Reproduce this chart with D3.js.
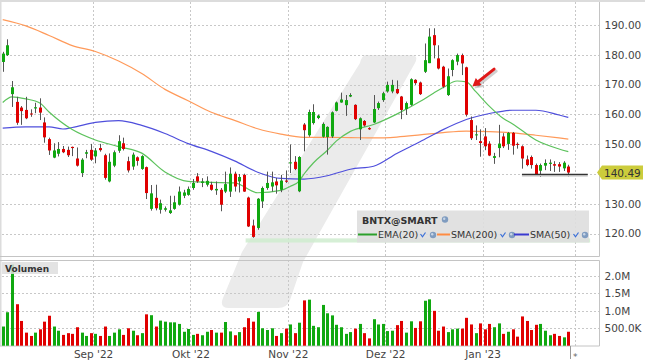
<!DOCTYPE html>
<html>
<head>
<meta charset="utf-8">
<script src="https://cdn.jsdelivr.net/npm/d3@7"></script>
<style>
  body { margin: 0; background: #fff; }
  text { font-family: "DejaVu Sans", Verdana, sans-serif; }
</style>
</head>
<body>
<svg id="chart" width="645" height="363"></svg>
<script>
// BNTX daily candles, Aug '22 - Jan '23 (index = trading day)
const opens = [177.6,179.9,166.8,164.2,162.3,161.5,160.3,162.0,162.3,157.3,
  151.7,145.5,146.8,148.4,148.1,149.1,145.2,140.3,146.8,148.1,
  145.9,148.7,146.3,137.5,142.8,147.8,150.3,144.3,142.5,145.6,
  141.7,142.3,128.3,132.0,128.0,128.0,126.9,128.3,129.7,132.7,
  133.0,135.3,139.2,137.0,136.4,136.4,134.5,134.7,134.1,134.1,
  140.1,137.5,139.7,132.1,122.7,121.9,130.8,135.3,135.8,137.5,
  134.7,137.8,143.7,144.1,134.2,156.6,153.0,157.1,158.8,152.5,
  152.4,152.6,161.2,164.0,163.1,166.0,163.2,155.0,157.8,155.4,
  157.3,162.1,164.8,167.7,167.7,168.5,166.0,161.8,163.2,171.6,
  170.7,174.3,177.2,186.6,178.8,176.0,166.5,174.9,177.7,179.9,
  175.8,158.1,153.0,151.0,152.6,150.2,145.4,148.7,152.6,150.1,
  153.8,150.1,149.3,144.9,145.7,143.0,141.1,142.8,143.4,143.3,
  143.3,141.9,142.5];
const highs = [181.0,185.2,171.2,165.9,162.8,165.9,161.7,163.9,165.4,159.0,
  152.2,150.3,150.7,149.4,149.2,149.2,148.9,145.3,148.1,150.1,
  148.7,150.1,146.8,146.9,147.9,153.0,152.2,145.8,147.2,145.9,
  146.3,142.5,136.3,136.4,131.4,129.1,132.7,132.7,135.8,134.7,
  135.8,138.3,140.3,138.6,139.2,137.4,137.5,135.3,140.8,142.2,
  140.8,140.0,140.1,132.4,124.7,131.9,135.8,140.8,140.8,138.7,
  139.7,141.2,149.9,146.0,146.0,157.1,161.6,163.4,159.9,157.3,
  156.0,161.0,164.3,167.3,166.5,167.1,163.4,159.0,158.1,155.7,
  166.5,164.3,167.6,171.0,171.6,171.4,166.2,164.3,172.1,171.8,
  171.0,183.8,188.9,188.9,183.2,176.3,175.4,178.5,180.4,180.4,
  176.0,159.3,156.3,155.0,155.4,151.0,147.1,156.5,153.7,154.1,
  154.1,150.6,149.6,146.2,146.2,143.5,143.5,144.9,144.9,144.3,
  144.0,144.3,143.1];
const lows = [174.3,179.6,162.5,156.5,156.5,158.4,159.2,160.4,158.1,150.5,
  146.4,145.3,145.9,147.0,145.7,146.0,142.5,139.0,145.3,144.4,
  143.6,147.5,138.1,137.2,142.3,147.1,147.9,140.5,141.4,142.8,
  141.4,131.6,127.7,127.8,126.7,127.4,126.6,128.0,129.4,131.9,
  132.7,134.7,137.0,135.6,135.8,134.4,133.0,127.5,133.6,132.3,
  134.1,133.8,134.0,122.2,118.6,121.3,128.6,134.7,134.1,133.4,
  133.9,137.0,140.3,141.3,133.9,147.6,152.5,156.6,158.4,152.2,
  146.5,152.1,161.0,163.9,159.5,165.8,158.1,151.4,155.9,154.8,
  157.1,161.5,164.2,167.3,167.1,166.8,158.4,159.8,162.9,169.9,
  166.5,173.9,177.2,178.8,175.1,168.8,166.2,172.8,176.5,173.2,
  159.3,151.4,151.4,145.8,148.0,146.0,143.4,145.6,148.7,148.1,
  146.5,148.5,141.8,142.6,141.8,139.6,139.0,141.3,141.0,140.7,
  140.7,141.0,139.2];
const closes = [180.4,183.2,169.1,157.2,161.1,158.7,160.1,162.4,160.6,152.3,
  147.9,147.9,148.4,147.3,146.3,148.7,142.8,144.8,147.3,144.8,
  147.9,148.0,138.7,144.1,147.3,151.0,148.4,141.2,146.5,144.4,
  146.0,133.6,133.5,128.5,130.2,128.5,127.8,130.5,134.1,133.8,
  135.0,137.0,137.5,137.5,137.7,134.7,135.0,129.7,136.6,140.1,
  135.8,139.0,134.1,122.4,118.9,131.7,135.3,137.0,137.2,136.2,
  137.8,137.4,143.9,141.7,145.7,154.7,160.8,160.8,159.6,156.8,
  155.8,160.7,164.0,165.0,164.8,166.5,158.4,158.7,156.3,155.0,
  161.8,163.8,167.1,169.9,169.9,167.1,161.5,163.8,171.8,170.5,
  166.8,178.2,186.1,183.2,175.4,169.3,172.8,178.2,179.9,177.1,
  159.9,152.0,153.3,150.4,149.3,146.2,146.0,150.2,149.3,153.8,
  149.5,149.8,145.2,143.0,143.0,140.0,143.0,143.7,143.8,142.8,
  142.5,143.8,140.49];
// volume in thousands of shares
const volumes = [550,960,2330,1190,710,375,280,375,470,690,
  860,550,430,310,360,340,530,375,280,360,
  340,280,550,280,375,470,310,500,430,300,
  360,900,875,550,720,690,670,670,625,400,
  480,310,340,300,400,450,375,375,680,410,
  300,390,530,790,690,970,500,450,500,280,
  360,490,610,360,660,1300,1320,570,530,1170,
  930,870,600,530,340,390,490,625,360,210,
  760,610,625,420,430,590,710,375,700,510,
  700,1290,1330,1000,430,550,390,470,490,490,
  800,610,360,640,470,625,530,640,340,400,
  470,260,840,710,450,600,625,430,300,340,
  280,240,400];

// moving averages at sample days
const emaIdx = [0,2,5,8,10,15,20,25,30,35,40,45,50,55,60,62,64,65,67,70,72,75,80,85,90,93,95,98,100,102,105,108,110,115,120,122];
const emaVals = [164.0,165.9,165.2,163.8,160.8,154.9,151.4,149.2,147.0,140.7,137.5,137.2,137.0,133.7,134.5,135.8,137.7,140.0,143.7,147.9,151.1,154.3,156.6,160.1,164.3,167.2,169.0,171.2,170.9,167.7,162.7,158.6,156.8,151.4,148.4,147.5];
const sma50Idx = [0,5,10,13,15,20,25,30,35,40,45,50,55,60,65,70,75,80,85,90,95,100,105,110,115,120,122];
const sma50Vals = [155.4,155.8,155.8,155.1,155.6,157.3,157.9,156.3,153.6,150.2,147.6,144.4,140.6,138.5,138.3,139.4,141.6,142.6,146.9,150.8,154.9,158.3,160.3,161.4,161.4,159.8,159.0];
const sma200Idx = [0,5,10,15,20,25,30,35,40,45,50,55,60,65,70,75,80,85,90,95,100,105,110,115,120,122];
const sma200Vals = [191.8,189.7,186.5,183.1,181.1,177.9,173.7,168.4,164.6,160.7,158.0,155.2,153.4,152.3,152.3,152.2,152.1,152.4,153.1,153.9,154.4,154.2,153.8,153.0,152.1,151.7];

const monthPos = [19.5, 40.5, 61.5, 82.5, 103.5];
const monthLabels = ["Sep '22", "Okt '22", "Nov '22", "Dez '22", "Jan '23"];
const nowPos = 123.5;
const priceTicks = [120, 130, 140, 150, 160, 170, 180, 190];
const volTicks = [500, 1000, 1500, 2000];
const lastPrice = 140.49;
const supportLine = { from: 112, to: 126.2, price: 139.9 };
const supportBand = { from: 52.4, to: 126.7, lo: 117.0, hi: 118.4 };
const arrow = { from: [106.0, 175.2], to: [101.3, 169.4] };

const svg = d3.select("#chart");
const GREEN = "#10a810", RED = "#e00000";
const right = 599.5;

const x = d3.scaleLinear().domain([0, 122]).range([2.7, 568.3]);
const y = d3.scaleLinear().domain([120, 190]).range([233.6, 25]);
const yv = d3.scaleLinear().domain([0, 2000]).range([345.7, 276]);

// frame strips
svg.append("rect").attr("x", 0).attr("y", 0).attr("width", 645).attr("height", 2).attr("fill", "#dcdcdc");
svg.append("rect").attr("x", 0).attr("y", 0).attr("width", 1.5).attr("height", 346).attr("fill", "#dcdcdc");

// watermark
svg.append("path")
  .attr("d", "M366,55 L411,55 Q419,55 415,63 L303,262 L290,300 Q287,308 278,308 L229,308 Q219,308 223,298 L242,252 L360,63 Q362,55 366,55 Z")
  .attr("fill", "#ebebeb");

// grid
const grid = svg.append("g").attr("stroke", "#c8c8c8").attr("stroke-dasharray", "2,2").attr("stroke-width", 1);
priceTicks.forEach((p) => {
  grid.append("line").attr("x1", 2).attr("x2", right).attr("y1", Math.round(y(p)) + 0.5).attr("y2", Math.round(y(p)) + 0.5);
});
volTicks.forEach((v) => {
  grid.append("line").attr("x1", 2).attr("x2", right).attr("y1", Math.round(yv(v)) + 0.5).attr("y2", Math.round(yv(v)) + 0.5);
});
[...monthPos, nowPos].forEach((m) => {
  const xx = Math.round(x(m)) + 0.5;
  grid.append("line").attr("x1", xx).attr("x2", xx).attr("y1", 2).attr("y2", 256);
  grid.append("line").attr("x1", xx).attr("x2", xx).attr("y1", 260).attr("y2", 346);
});

// panel borders
const border = svg.append("g").attr("stroke", "#c4c4c4").attr("stroke-width", 1);
border.append("line").attr("x1", 0).attr("x2", right).attr("y1", 256.5).attr("y2", 256.5);
border.append("line").attr("x1", 0).attr("x2", right).attr("y1", 260.5).attr("y2", 260.5);
border.append("line").attr("x1", 0).attr("x2", right).attr("y1", 346).attr("y2", 346);
border.append("line").attr("x1", right).attr("x2", right).attr("y1", 2).attr("y2", 256.5);
border.append("line").attr("x1", right).attr("x2", right).attr("y1", 260.5).attr("y2", 346);

// support band
svg.append("rect")
  .attr("x", x(supportBand.from)).attr("width", x(supportBand.to) - x(supportBand.from))
  .attr("y", y(supportBand.hi)).attr("height", y(supportBand.lo) - y(supportBand.hi))
  .attr("fill", "#cfeccf").attr("opacity", 0.85);

// moving averages
const maLine = d3.line().x((d) => x(d[0])).y((d) => y(d[1])).curve(d3.curveMonotoneX);
[
  { idx: sma200Idx, vals: sma200Vals, color: "#ff9a5a" },
  { idx: sma50Idx, vals: sma50Vals, color: "#4f4fdc" },
  { idx: emaIdx, vals: emaVals, color: "#5cc25c" },
].forEach(({ idx, vals, color }) => {
  svg.append("path")
    .datum(idx.map((d, i) => [d, vals[i]]))
    .attr("fill", "none").attr("stroke", color).attr("stroke-width", 1.2)
    .attr("d", maLine);
});

// candles
const candles = svg.append("g");
opens.forEach((o, i) => {
  const c = closes[i];
  const up = c >= o;
  const cx = Math.round(x(i));
  candles.append("line")
    .attr("x1", cx + 0.5).attr("x2", cx + 0.5)
    .attr("y1", y(highs[i])).attr("y2", y(lows[i]))
    .attr("stroke", "#555").attr("stroke-width", 1);
  const top = y(Math.max(o, c));
  candles.append("rect")
    .attr("x", cx - 1).attr("width", 3)
    .attr("y", top).attr("height", Math.max(1, y(Math.min(o, c)) - top))
    .attr("fill", up ? GREEN : RED);
});

// support line
svg.append("line")
  .attr("x1", x(supportLine.from)).attr("x2", x(supportLine.to))
  .attr("y1", y(supportLine.price) + 1.5).attr("y2", y(supportLine.price) + 1.5)
  .attr("stroke", "#bbb").attr("stroke-width", 1.5);
svg.append("line")
  .attr("x1", x(supportLine.from)).attr("x2", x(supportLine.to))
  .attr("y1", y(supportLine.price)).attr("y2", y(supportLine.price))
  .attr("stroke", "#333").attr("stroke-width", 1.3);

// arrow
const ax0 = x(arrow.from[0]), ay0 = y(arrow.from[1]);
const ax1 = x(arrow.to[0]), ay1 = y(arrow.to[1]);
const ang = Math.atan2(ay1 - ay0, ax1 - ax0);
const head = (dx, dy) => {
  const hl = 8, hw = 4.5;
  const bx = ax1 - hl * Math.cos(ang), by = ay1 - hl * Math.sin(ang);
  return `M${ax1 + dx},${ay1 + dy} L${bx + hw * Math.sin(ang) + dx},${by - hw * Math.cos(ang) + dy} L${bx - hw * Math.sin(ang) + dx},${by + hw * Math.cos(ang) + dy} Z`;
};
[[2, 2, "#000", 0.18], [0, 0, "#e01818", 1]].forEach(([dx, dy, col, op]) => {
  svg.append("line")
    .attr("x1", ax0 + dx).attr("y1", ay0 + dy)
    .attr("x2", ax1 + 5 * Math.cos(ang) * -1 + dx).attr("y2", ay1 - 5 * Math.sin(ang) + dy)
    .attr("stroke", col).attr("stroke-width", 3).attr("stroke-linecap", "round").attr("opacity", op);
  svg.append("path").attr("d", head(dx, dy)).attr("fill", col).attr("opacity", op);
});

// legend
const lg = svg.append("g");
lg.append("rect").attr("x", 357).attr("y", 210.5).attr("width", 232).attr("height", 32)
  .attr("fill", "#dedede").attr("opacity", 0.9);
lg.append("text").attr("x", 362).attr("y", 223.5).attr("font-size", 9.5).attr("font-weight", "bold")
  .attr("fill", "#333").text("BNTX@SMART");
const globe = (gx, gy) => {
  lg.append("circle").attr("cx", gx).attr("cy", gy).attr("r", 3.2).attr("fill", "#7f9cc0");
  lg.append("circle").attr("cx", gx - 0.8).attr("cy", gy - 0.8).attr("r", 1.2).attr("fill", "#c9d6e6");
};
const check = (cx, cy) => {
  lg.append("path").attr("d", `M${cx - 2.5},${cy - 1} L${cx - 0.5},${cy + 1.8} L${cx + 2.5},${cy - 2.5}`)
    .attr("fill", "none").attr("stroke", "#3a6fd8").attr("stroke-width", 1.2);
};
globe(445, 219.5);
const legendItems = [
  { label: "EMA(20)", color: "#2ca02c", x0: 358, x1: 377, tx: 378, ck: 423, gl: 433 },
  { label: "SMA(200)", color: "#ff8c42", x0: 437, x1: 450, tx: 451, ck: 503, gl: 512 },
  { label: "SMA(50)", color: "#3a3ad0", x0: 514, x1: 529, tx: 530, ck: 576, gl: 585 },
];
legendItems.forEach((d) => {
  lg.append("line").attr("x1", d.x0).attr("x2", d.x1).attr("y1", 234.5).attr("y2", 234.5)
    .attr("stroke", d.color).attr("stroke-width", 2);
  lg.append("text").attr("x", d.tx).attr("y", 238).attr("font-size", 9.5).attr("fill", "#333").text(d.label);
  check(d.ck, 235);
  globe(d.gl, 235);
});

// price axis
const gy = svg.append("g").attr("transform", `translate(${right + 3},0)`)
  .call(d3.axisRight(y).tickValues(priceTicks).tickFormat(d3.format(".2f")).tickSize(0).tickPadding(2));
gy.select(".domain").remove();
gy.selectAll("text").attr("font-size", 10.5).attr("fill", "#444").attr("font-family", "DejaVu Sans, Verdana, sans-serif");

// last price tag
const ly = y(lastPrice);
svg.append("path")
  .attr("d", `M597,${ly} L602,${ly - 7} L643,${ly - 7} L643,${ly + 7} L602,${ly + 7} Z`)
  .attr("fill", "#cccc3c");
svg.append("text").attr("x", 604).attr("y", ly + 4).attr("font-size", 10.5).attr("fill", "#333").text(lastPrice.toFixed(2));

// volume bars
const vol = svg.append("g");
volumes.forEach((v, i) => {
  const cx = Math.round(x(i));
  vol.append("rect")
    .attr("x", cx - 1).attr("width", 3)
    .attr("y", yv(v)).attr("height", yv(0) - yv(v))
    .attr("fill", closes[i] >= opens[i] ? GREEN : RED);
});
svg.append("rect").attr("x", 2).attr("y", 262).attr("width", 56).attr("height", 12)
  .attr("fill", "#dedede").attr("opacity", 0.85);
svg.append("text").attr("x", 5).attr("y", 271.5).attr("font-size", 9).attr("font-weight", "bold")
  .attr("fill", "#333").text("Volumen");

// volume axis
const gv = svg.append("g").attr("transform", `translate(${right + 3},0)`)
  .call(d3.axisRight(yv).tickValues(volTicks)
    .tickFormat((d) => (d >= 1000 ? (d / 1000).toFixed(1) + "M" : d.toFixed(1) + "K"))
    .tickSize(0).tickPadding(2));
gv.select(".domain").remove();
gv.selectAll("text").attr("font-size", 10.5).attr("fill", "#444").attr("font-family", "DejaVu Sans, Verdana, sans-serif");

// time axis
const gx = svg.append("g").attr("transform", "translate(0,346)")
  .call(d3.axisBottom(x).tickValues(monthPos).tickFormat((d, i) => monthLabels[i]).tickSize(0).tickPadding(5));
gx.select(".domain").remove();
gx.selectAll("text").attr("font-size", 10.5).attr("fill", "#444").attr("font-family", "DejaVu Sans, Verdana, sans-serif");

svg.append("line").attr("x1", 570.5).attr("x2", 570.5).attr("y1", 346).attr("y2", 359).attr("stroke", "#999");
svg.append("text").attr("x", x(nowPos)).attr("y", 360).attr("text-anchor", "middle")
  .attr("font-size", 9).attr("fill", "#666").text("*");
</script>
</body>
</html>
